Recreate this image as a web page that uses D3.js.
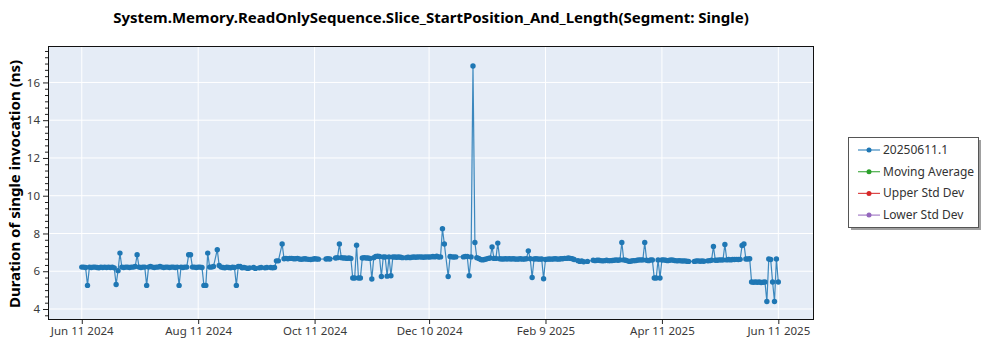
<!DOCTYPE html>
<html>
<head>
<meta charset="utf-8">
<script src="https://cdn.jsdelivr.net/npm/d3@7"></script>
<style>
  html, body { margin: 0; padding: 0; background: #ffffff; }
  svg { display: block; font-family: "Segoe UI", "Noto Sans", "Open Sans", sans-serif; }
</style>
</head>
<body>
<svg id="chart" width="1000" height="350"></svg>
<script>
// ---------------- DATA ----------------
const chartTitle = "System.Memory.ReadOnlySequence.Slice_StartPosition_And_Length(Segment: Single)";
const yAxisLabel = "Duration of single invocation (ns)";
const legendLabels = ["20250611.1", "Moving Average", "Upper Std Dev", "Lower Std Dev"];
const xTickDates = ["2024-06-11", "2024-08-11", "2024-10-11", "2024-12-10", "2025-02-09", "2025-04-11", "2025-06-11"];
const xTickLabels = ["Jun 11 2024", "Aug 11 2024", "Oct 11 2024", "Dec 10 2024", "Feb 9 2025", "Apr 11 2025", "Jun 11 2025"];
const yTickValues = [4, 6, 8, 10, 12, 14, 16];

// series "20250611.1": [date, duration ns] pairs by month
const jun24 = [["2024-06-11",6.22],["2024-06-12",6.22],["2024-06-13",6.2],["2024-06-14",5.25],["2024-06-15",6.22],["2024-06-16",6.2],["2024-06-17",6.22],["2024-06-18",6.22],["2024-06-19",6.2],["2024-06-20",6.18],["2024-06-21",6.22],["2024-06-22",6.2],["2024-06-23",6.22],["2024-06-24",6.2],["2024-06-25",6.22],["2024-06-26",6.2],["2024-06-27",6.22],["2024-06-28",6.18],["2024-06-29",5.3],["2024-06-30",6.03]];
const jul24 = [["2024-07-01",6.96],["2024-07-02",6.22],["2024-07-03",6.2],["2024-07-04",6.22],["2024-07-05",6.22],["2024-07-06",6.2],["2024-07-07",6.22],["2024-07-08",6.22],["2024-07-09",6.25],["2024-07-10",6.87],["2024-07-11",6.22],["2024-07-12",6.2],["2024-07-13",6.22],["2024-07-14",6.22],["2024-07-15",5.25],["2024-07-16",6.22],["2024-07-17",6.25],["2024-07-18",6.22],["2024-07-19",6.2],["2024-07-20",6.22],["2024-07-21",6.22],["2024-07-22",6.25],["2024-07-23",6.22],["2024-07-24",6.2],["2024-07-25",6.22],["2024-07-26",6.22],["2024-07-27",6.2],["2024-07-28",6.22],["2024-07-29",6.22],["2024-07-30",6.2],["2024-07-31",6.22]];
const aug24 = [["2024-08-01",5.25],["2024-08-02",6.22],["2024-08-03",6.2],["2024-08-04",6.22],["2024-08-05",6.22],["2024-08-06",6.87],["2024-08-07",6.87],["2024-08-08",6.22],["2024-08-09",6.22],["2024-08-10",6.2],["2024-08-11",6.22],["2024-08-12",6.22],["2024-08-13",6.2],["2024-08-14",5.25],["2024-08-15",5.25],["2024-08-16",6.96],["2024-08-17",6.22],["2024-08-18",6.22],["2024-08-19",6.25],["2024-08-21",7.14],["2024-08-22",6.3],["2024-08-23",6.22],["2024-08-24",6.2],["2024-08-25",6.18],["2024-08-26",6.22],["2024-08-27",6.2],["2024-08-28",6.18],["2024-08-29",6.22],["2024-08-30",6.2],["2024-08-31",5.25]];
const sep24 = [["2024-09-01",6.25],["2024-09-02",6.25],["2024-09-03",6.18],["2024-09-04",6.2],["2024-09-05",6.18],["2024-09-06",6.15],["2024-09-07",6.18],["2024-09-09",6.2],["2024-09-10",6.15],["2024-09-12",6.18],["2024-09-13",6.2],["2024-09-15",6.18],["2024-09-16",6.2],["2024-09-18",6.2],["2024-09-19",6.18],["2024-09-20",6.2],["2024-09-21",6.55],["2024-09-22",6.55],["2024-09-24",7.44],["2024-09-25",6.66],["2024-09-26",6.68],["2024-09-27",6.66],["2024-09-28",6.68],["2024-09-29",6.68],["2024-09-30",6.66]];
const oct24 = [["2024-10-01",6.66],["2024-10-02",6.68],["2024-10-03",6.65],["2024-10-04",6.63],["2024-10-05",6.65],["2024-10-06",6.66],["2024-10-07",6.64],["2024-10-08",6.63],["2024-10-09",6.62],["2024-10-10",6.64],["2024-10-11",6.66],["2024-10-12",6.65],["2024-10-13",6.64],["2024-10-17",6.65],["2024-10-18",6.66],["2024-10-19",6.65],["2024-10-22",6.7],["2024-10-23",6.72],["2024-10-24",7.44],["2024-10-25",6.72],["2024-10-26",6.7],["2024-10-27",6.7],["2024-10-28",6.68],["2024-10-29",6.7],["2024-10-30",6.68],["2024-10-31",5.64]];
const nov24 = [["2024-11-01",5.64],["2024-11-02",7.38],["2024-11-03",5.64],["2024-11-04",5.64],["2024-11-05",6.7],["2024-11-06",6.72],["2024-11-07",6.7],["2024-11-08",6.7],["2024-11-09",6.68],["2024-11-10",5.59],["2024-11-11",6.72],["2024-11-12",6.78],["2024-11-13",6.8],["2024-11-14",6.78],["2024-11-15",5.72],["2024-11-16",6.76],["2024-11-17",6.75],["2024-11-18",5.74],["2024-11-19",6.76],["2024-11-20",5.76],["2024-11-21",6.75],["2024-11-22",6.75],["2024-11-23",6.74],["2024-11-24",6.75],["2024-11-25",6.74],["2024-11-26",6.72],["2024-11-28",6.72],["2024-11-29",6.74],["2024-11-30",6.72]];
const dec24 = [["2024-12-01",6.74],["2024-12-02",6.75],["2024-12-03",6.74],["2024-12-04",6.75],["2024-12-05",6.76],["2024-12-06",6.75],["2024-12-07",6.74],["2024-12-08",6.75],["2024-12-09",6.76],["2024-12-10",6.75],["2024-12-11",6.76],["2024-12-12",6.78],["2024-12-13",6.76],["2024-12-14",6.8],["2024-12-15",6.75],["2024-12-16",6.76],["2024-12-17",8.25],["2024-12-18",7.44],["2024-12-20",5.72],["2024-12-21",6.78],["2024-12-22",6.76],["2024-12-23",6.75],["2024-12-24",6.76],["2024-12-28",6.76],["2024-12-29",6.78],["2024-12-30",6.78],["2024-12-31",5.76]];
const jan25 = [["2025-01-01",6.76],["2025-01-02",16.87],["2025-01-03",7.52],["2025-01-04",6.72],["2025-01-05",6.68],["2025-01-06",6.62],["2025-01-07",6.6],["2025-01-08",6.62],["2025-01-09",6.65],["2025-01-10",6.68],["2025-01-11",6.7],["2025-01-12",7.28],["2025-01-13",6.68],["2025-01-14",6.68],["2025-01-15",7.49],["2025-01-16",6.66],["2025-01-17",6.65],["2025-01-18",6.65],["2025-01-19",6.66],["2025-01-20",6.65],["2025-01-21",6.66],["2025-01-22",6.65],["2025-01-23",6.66],["2025-01-24",6.65],["2025-01-25",6.64],["2025-01-26",6.65],["2025-01-27",6.66],["2025-01-28",6.64],["2025-01-29",6.65],["2025-01-30",6.66],["2025-01-31",7.08]];
const feb25 = [["2025-02-01",6.66],["2025-02-02",5.67],["2025-02-03",6.65],["2025-02-04",6.66],["2025-02-05",6.65],["2025-02-06",6.64],["2025-02-07",6.65],["2025-02-08",5.6],["2025-02-09",6.62],["2025-02-10",6.64],["2025-02-11",6.65],["2025-02-12",6.64],["2025-02-13",6.65],["2025-02-14",6.66],["2025-02-15",6.65],["2025-02-16",6.64],["2025-02-17",6.66],["2025-02-18",6.66],["2025-02-19",6.68],["2025-02-20",6.68],["2025-02-21",6.7],["2025-02-22",6.68],["2025-02-23",6.66],["2025-02-24",6.62],["2025-02-26",6.56],["2025-02-27",6.52],["2025-02-28",6.55]];
const mar25 = [["2025-03-01",6.5],["2025-03-03",6.52],["2025-03-06",6.58],["2025-03-07",6.56],["2025-03-08",6.58],["2025-03-09",6.58],["2025-03-10",6.56],["2025-03-11",6.55],["2025-03-12",6.56],["2025-03-13",6.58],["2025-03-14",6.56],["2025-03-15",6.56],["2025-03-16",6.57],["2025-03-17",6.58],["2025-03-18",6.6],["2025-03-19",6.58],["2025-03-20",6.6],["2025-03-21",7.52],["2025-03-22",6.6],["2025-03-23",6.58],["2025-03-24",6.55],["2025-03-25",6.52],["2025-03-26",6.54],["2025-03-27",6.56],["2025-03-28",6.56],["2025-03-29",6.58],["2025-03-30",6.6],["2025-03-31",6.6]];
const apr25 = [["2025-04-01",6.6],["2025-04-02",7.52],["2025-04-03",6.58],["2025-04-04",6.56],["2025-04-05",6.6],["2025-04-06",6.6],["2025-04-07",5.64],["2025-04-08",5.64],["2025-04-09",6.6],["2025-04-10",5.64],["2025-04-11",6.6],["2025-04-12",6.6],["2025-04-13",6.58],["2025-04-14",6.56],["2025-04-15",6.58],["2025-04-16",6.6],["2025-04-17",6.58],["2025-04-18",6.56],["2025-04-19",6.55],["2025-04-20",6.56],["2025-04-21",6.55],["2025-04-22",6.54],["2025-04-23",6.55],["2025-04-24",6.53],["2025-04-25",6.52],["2025-04-28",6.52],["2025-04-29",6.54],["2025-04-30",6.55]];
const may25 = [["2025-05-01",6.53],["2025-05-02",6.54],["2025-05-03",6.53],["2025-05-05",6.55],["2025-05-06",6.56],["2025-05-07",6.58],["2025-05-08",7.31],["2025-05-09",6.58],["2025-05-10",6.58],["2025-05-11",6.6],["2025-05-12",6.6],["2025-05-13",6.6],["2025-05-14",7.42],["2025-05-15",6.6],["2025-05-16",6.62],["2025-05-17",6.6],["2025-05-18",6.62],["2025-05-19",6.62],["2025-05-20",6.63],["2025-05-21",6.62],["2025-05-22",6.63],["2025-05-23",7.36],["2025-05-24",7.44],["2025-05-25",6.65],["2025-05-26",6.65],["2025-05-27",6.66],["2025-05-28",5.43],["2025-05-29",5.42],["2025-05-30",5.43],["2025-05-31",5.42]];
const jun25 = [["2025-06-01",5.43],["2025-06-02",5.4],["2025-06-03",5.42],["2025-06-04",5.43],["2025-06-05",4.4],["2025-06-06",6.65],["2025-06-07",6.62],["2025-06-08",5.43],["2025-06-09",4.4],["2025-06-10",6.65],["2025-06-11",5.43]];

// ---------------- LAYOUT ----------------
const W = 1000, H = 350;
const plot = { left: 48, right: 814, top: 46, bottom: 319 };
const colors = ["#1f77b4", "#2ca02c", "#d62728", "#9467bd"];
const parse = d3.utcParse("%Y-%m-%d");
const DAY = 86400000;

const series = [].concat(jun24, jul24, aug24, sep24, oct24, nov24, dec24, jan25, feb25, mar25, apr25, may25, jun25)
  .map(([d, v]) => ({ date: parse(d), value: v }));

const x = d3.scaleUtc()
  .domain([new Date(parse("2024-06-11").getTime() - 17.7 * DAY), new Date(parse("2025-06-11").getTime() + 18.7 * DAY)])
  .range([plot.left, plot.right]);
const y = d3.scaleLinear().domain([3.47, 17.93]).range([plot.bottom, plot.top]);

const svg = d3.select("#chart");

// plot background
svg.append("rect")
  .attr("x", plot.left).attr("y", plot.top)
  .attr("width", plot.right - plot.left).attr("height", plot.bottom - plot.top)
  .attr("fill", "#e5ecf6");

// grid
const xTicks = xTickDates.map(parse);
const grid = svg.append("g");
grid.selectAll("line.gx").data(xTicks).join("line")
  .attr("x1", d => x(d)).attr("x2", d => x(d))
  .attr("y1", plot.top).attr("y2", plot.bottom)
  .attr("stroke", "#ffffff").attr("stroke-width", 1);
grid.selectAll("line.gy").data(yTickValues).join("line")
  .attr("x1", plot.left).attr("x2", plot.right)
  .attr("y1", d => y(d)).attr("y2", d => y(d))
  .attr("stroke", "#ffffff").attr("stroke-width", 1);

// clip
svg.append("clipPath").attr("id", "clip").append("rect")
  .attr("x", plot.left).attr("y", plot.top)
  .attr("width", plot.right - plot.left).attr("height", plot.bottom - plot.top);

// series
const g = svg.append("g").attr("clip-path", "url(#clip)");
const line = d3.line().x(d => x(d.date)).y(d => y(d.value));
g.append("path").datum(series)
  .attr("d", line)
  .attr("fill", "none")
  .attr("stroke", colors[0])
  .attr("stroke-opacity", 0.85)
  .attr("stroke-width", 1.2);
g.selectAll("circle").data(series).join("circle")
  .attr("cx", d => x(d.date)).attr("cy", d => y(d.value))
  .attr("r", 2.7)
  .attr("fill", colors[0]);

// axes
const xAxis = d3.axisBottom(x)
  .tickValues(xTicks)
  .tickFormat((d, i) => xTickLabels[i])
  .tickSize(5).tickPadding(3);
const gx = svg.append("g").attr("transform", `translate(0,${plot.bottom})`).call(xAxis);
gx.select(".domain").remove();
gx.selectAll("line").attr("stroke", "#222");
gx.selectAll("text").attr("fill", "#3a3a3a").style("font-size", "11.5px")
  .style("font-family", "\"Segoe UI\", \"Noto Sans\", \"Open Sans\", sans-serif");

const yMinor = d3.range(0, 44).map(i => +(3 + (i + 2) / 3).toFixed(4)).filter(v => v >= 3.5 && v <= 17.9 && Math.abs(v - Math.round(v / 2) * 2) > 0.01);
const yAxisMinor = d3.axisLeft(y).tickValues(yMinor).tickSize(3).tickFormat("");
const gym = svg.append("g").attr("transform", `translate(${plot.left},0)`).call(yAxisMinor);
gym.select(".domain").remove();
gym.selectAll("line").attr("stroke", "#222");

const yAxis = d3.axisLeft(y).tickValues(yTickValues).tickSize(5).tickPadding(3);
const gy = svg.append("g").attr("transform", `translate(${plot.left},0)`).call(yAxis);
gy.select(".domain").remove();
gy.selectAll("line").attr("stroke", "#222");
gy.selectAll("text").attr("fill", "#3a3a3a").style("font-size", "11.5px")
  .style("font-family", "\"Segoe UI\", \"Noto Sans\", \"Open Sans\", sans-serif");

// plot frame
svg.append("rect")
  .attr("x", plot.left + 0.5).attr("y", plot.top + 0.5)
  .attr("width", plot.right - plot.left - 1).attr("height", plot.bottom - plot.top)
  .attr("fill", "none").attr("stroke", "#111").attr("stroke-width", 1);

// title
svg.append("text")
  .attr("x", (plot.left + plot.right) / 2).attr("y", 23)
  .attr("text-anchor", "middle")
  .style("font-size", "15px").style("font-weight", "bold")
  .attr("fill", "#000")
  .text(chartTitle);

// y label
svg.append("text")
  .attr("transform", `translate(20,184) rotate(-90)`)
  .attr("text-anchor", "middle")
  .style("font-size", "15px").style("font-weight", "bold")
  .attr("fill", "#000")
  .text(yAxisLabel);

// legend
const lg = { x: 848, y: 137, w: 130, h: 90 };
svg.append("rect").attr("x", lg.x + 3).attr("y", lg.y + 3).attr("width", lg.w).attr("height", lg.h).attr("fill", "#a0a0a0");
svg.append("rect").attr("x", lg.x + 0.5).attr("y", lg.y + 0.5).attr("width", lg.w).attr("height", lg.h)
  .attr("fill", "#ffffff").attr("stroke", "#555").attr("stroke-width", 1);
const rows = svg.append("g").selectAll("g").data(legendLabels).join("g")
  .attr("transform", (d, i) => `translate(${lg.x},${lg.y + 13 + i * 21.7})`);
rows.append("line").attr("x1", 10).attr("x2", 32).attr("y1", 0).attr("y2", 0)
  .attr("stroke", (d, i) => colors[i]).attr("stroke-width", 1.2).attr("stroke-opacity", 0.85);
rows.append("circle").attr("cx", 21).attr("cy", 0).attr("r", 2.5).attr("fill", (d, i) => colors[i]);
rows.append("text").attr("x", 35).attr("y", 4)
  .style("font-size", "12px").attr("fill", "#333").text(d => d);
</script>
</body>
</html>
